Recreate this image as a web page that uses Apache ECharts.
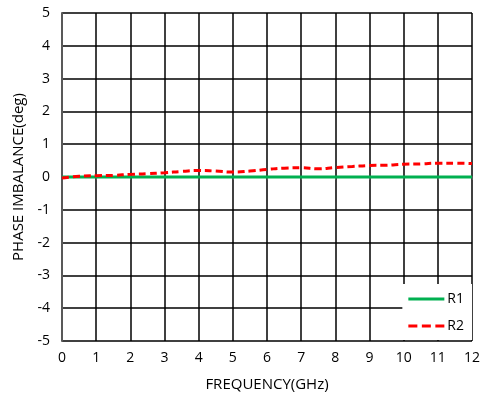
<!DOCTYPE html>
<html><head><meta charset="utf-8">
<script src="https://cdn.jsdelivr.net/npm/echarts@6/dist/echarts.min.js"></script>
<style>html,body{margin:0;padding:0;background:#fff}#c{width:486px;height:398px}</style>
</head><body><div id="c"></div>
<script>
const freq = [0,0.5,1,1.5,2,2.5,3,3.5,4,4.5,5,5.5,6,6.5,7,7.5,8,8.5,9,9.5,10,10.5,11,11.5,12];
const r1 = [0,0,0,0,0,0,0,0,0,0,0,0,0,0,0,0,0,0,0,0,0,0,0,0,0];
const r2 = [-0.03,0.02,0.04,0.05,0.08,0.1,0.13,0.17,0.2,0.18,0.15,0.18,0.23,0.27,0.28,0.25,0.29,0.32,0.35,0.36,0.39,0.4,0.42,0.42,0.41];
const xTicks = [0,12,1];
const yTicks = [-5,5,1];
const font = 'Open Sans';
const chart = echarts.init(document.getElementById('c'));
chart.setOption({
  animation:false,
  grid:{left:62,right:14,top:13,bottom:57,containLabel:false,outerBoundsMode:'none'},
  legend:{
    orient:'vertical', right:14, bottom:58, backgroundColor:'#fff',
    padding:[8,8,7,6], itemGap:13, itemWidth:36, itemHeight:3,
    textStyle:{fontFamily:font,fontSize:14,color:'#000',padding:[0,0,0,-2]},
    data:[{name:'R1',icon:'path://M0,0h36v3h-36z'},
          {name:'R2',icon:'path://M0,0h9v3h-9zM13.5,0h9v3h-9zM27,0h9v3h-9z'}]
  },
  xAxis:{type:'value',min:xTicks[0],max:xTicks[1],interval:xTicks[2],
    name:'FREQUENCY(GHz)',nameLocation:'middle',nameGap:36,
    nameTextStyle:{fontFamily:font,fontSize:15,color:'#000'},
    axisLine:{lineStyle:{color:'#595959',width:2}},
    axisTick:{show:true,length:3,lineStyle:{color:'#595959'}},
    axisLabel:{fontFamily:font,fontSize:14,color:'#000',margin:10},
    splitLine:{show:true,lineStyle:{color:'#000',width:1.5}}},
  yAxis:{type:'value',min:yTicks[0],max:yTicks[1],interval:yTicks[2],
    name:'PHASE IMBALANCE(deg)',nameLocation:'middle',nameGap:36,
    nameTextStyle:{fontFamily:font,fontSize:15,color:'#000'},
    axisLine:{show:true,lineStyle:{color:'#595959',width:2}},
    axisTick:{show:false},
    axisLabel:{fontFamily:font,fontSize:14,color:'#000',margin:12},
    splitLine:{show:true,lineStyle:{color:'#000',width:1.5}}},
  series:[
    {name:'R1',type:'line',data:freq.map((f,i)=>[f,r1[i]]),showSymbol:false,
      lineStyle:{color:'#00B050',width:3},itemStyle:{color:'#00B050'},z:3},
    {name:'R2',type:'line',smooth:true,data:freq.map((f,i)=>[f,r2[i]]),showSymbol:false,
      lineStyle:{color:'#FF0000',width:3,type:[7,4]},itemStyle:{color:'#FF0000'},z:4}
  ]
});
</script></body></html>
